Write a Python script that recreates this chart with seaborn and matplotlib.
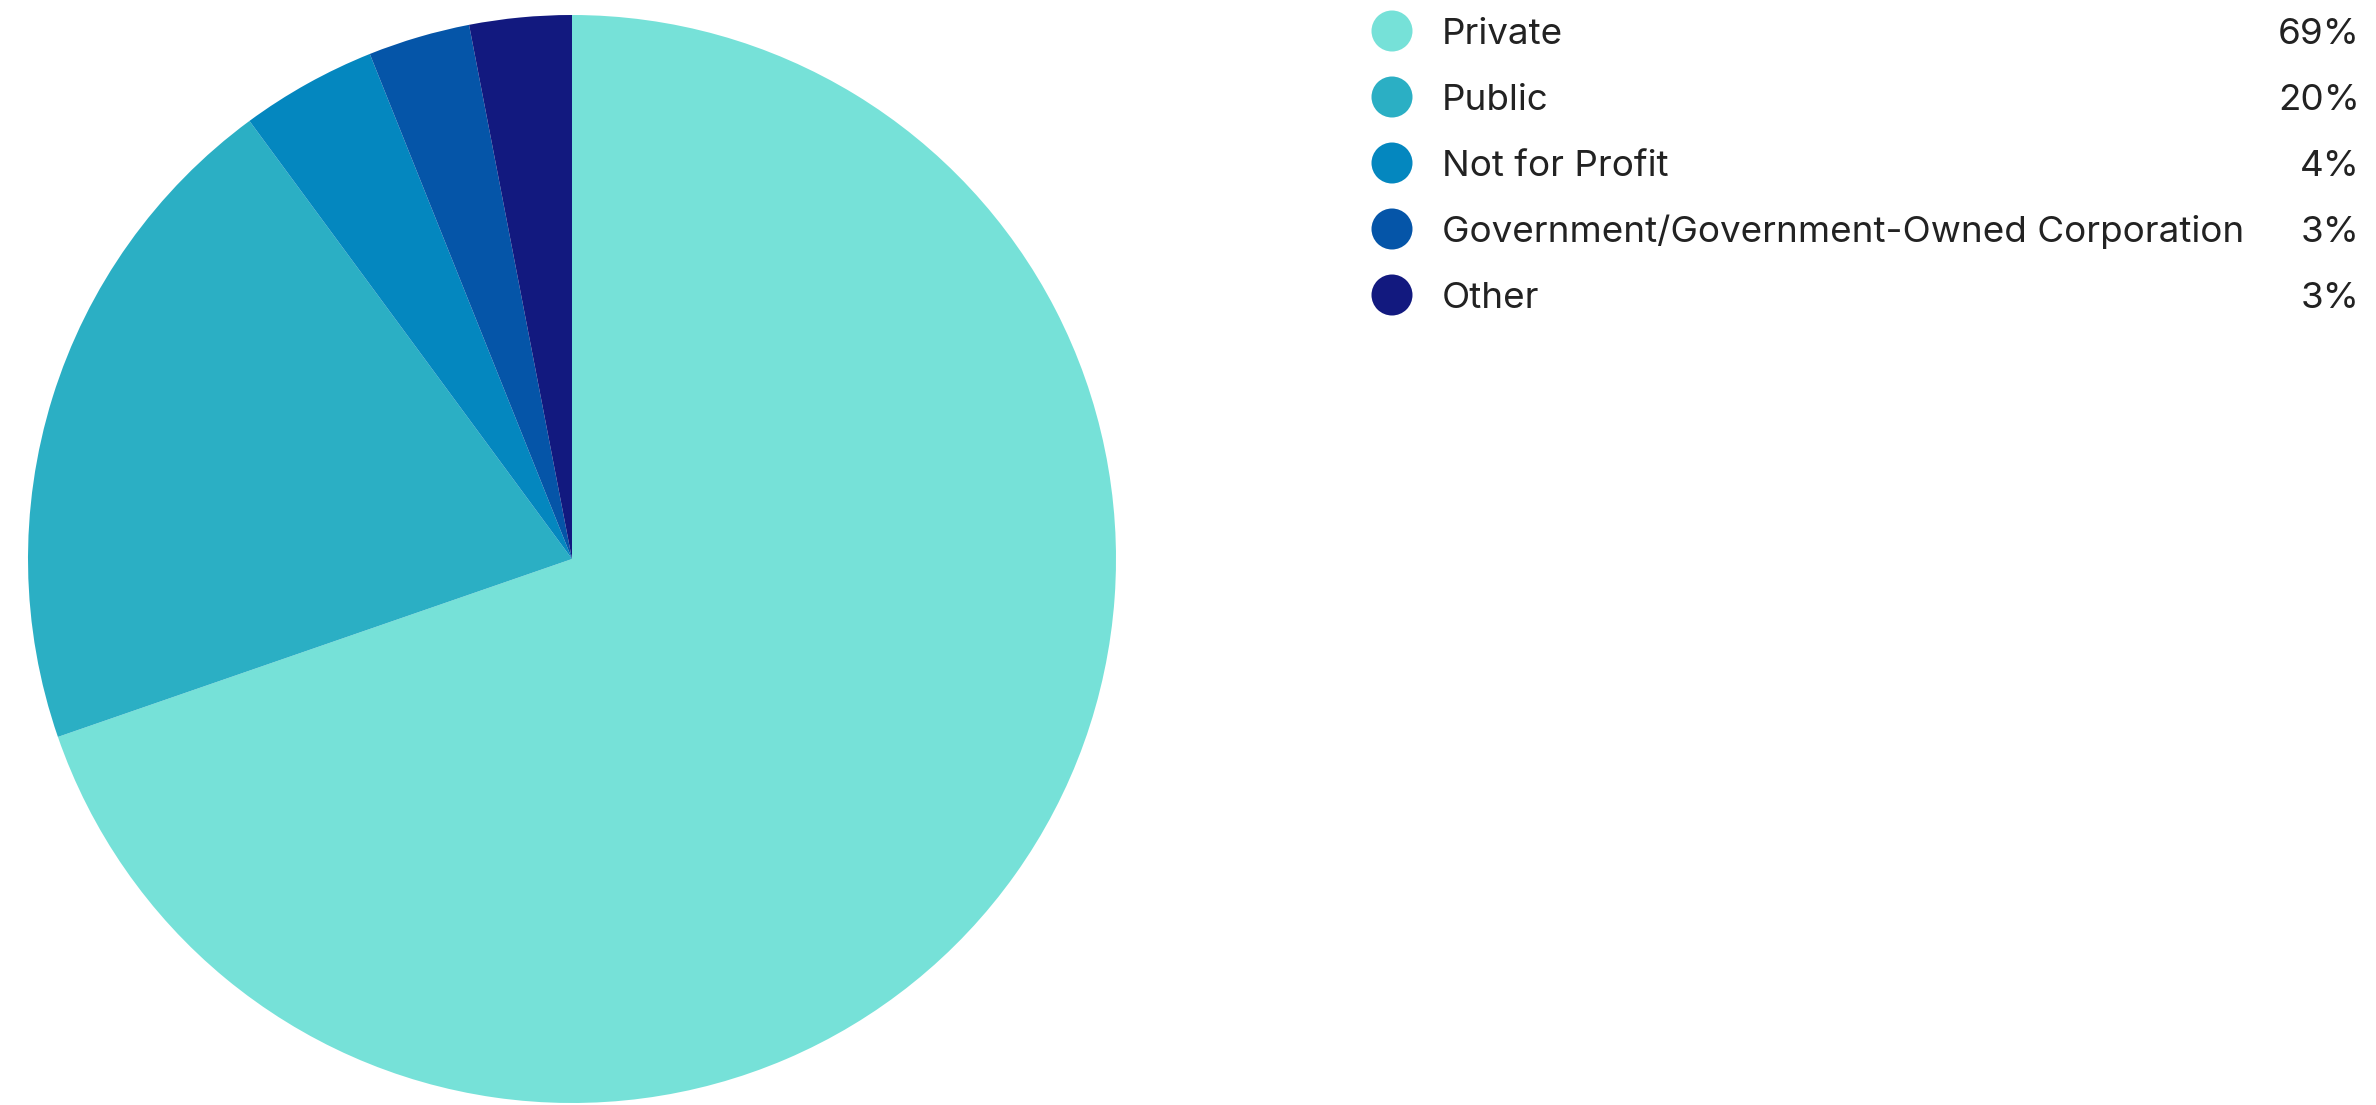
import matplotlib
matplotlib.use("Agg")
import matplotlib.pyplot as plt
import seaborn as sns

# Organisation type breakdown
categories = ["Private", "Public", "Not for Profit",
              "Government/Government-Owned Corporation", "Other"]
shares = [69, 20, 4, 3, 3]
share_labels = ["69%", "20%", "4%", "3%", "3%"]
colors = ["#76E1D8", "#2BAFC4", "#0487BF", "#0555A8", "#12197F"]

sns.set_theme(style="white")
plt.rcParams["font.family"] = ["Inter", "DejaVu Sans"]

W, H, DPI = 2376, 1105, 100
fig = plt.figure(figsize=(W / DPI, H / DPI), dpi=DPI)
fig.patch.set_facecolor("white")

palette = sns.color_palette(colors)

# Pie: centre and radius in pixels
cx, cy, r = 572, 559, 544
ax = fig.add_axes([(cx - r) / W, (H - cy - r) / H, 2 * r / W, 2 * r / H])
ax.pie(shares, colors=palette, startangle=90, counterclock=False,
       radius=1, wedgeprops=dict(linewidth=0))
ax.set_xlim(-1, 1)
ax.set_ylim(-1, 1)
ax.set_axis_off()

# Legend panel drawn in pixel coordinates
lg = fig.add_axes([0, 0, 1, 1])
lg.set_xlim(0, W)
lg.set_ylim(H, 0)
lg.set_axis_off()
y0, dy, cap = 31, 66, 26
for i, (name, lab) in enumerate(zip(categories, share_labels)):
    y = y0 + i * dy
    lg.scatter([1392], [y], s=(41 * 72 / DPI) ** 2, color=palette[i],
               edgecolors="none")
    lg.text(1442, y + cap / 2, name, fontsize=26.5, color="#222222",
            va="baseline", ha="left")
    lg.text(2360, y + cap / 2, lab, fontsize=26.5, color="#222222",
            va="baseline", ha="right")

fig.savefig("out.png", dpi=DPI, facecolor="white")
